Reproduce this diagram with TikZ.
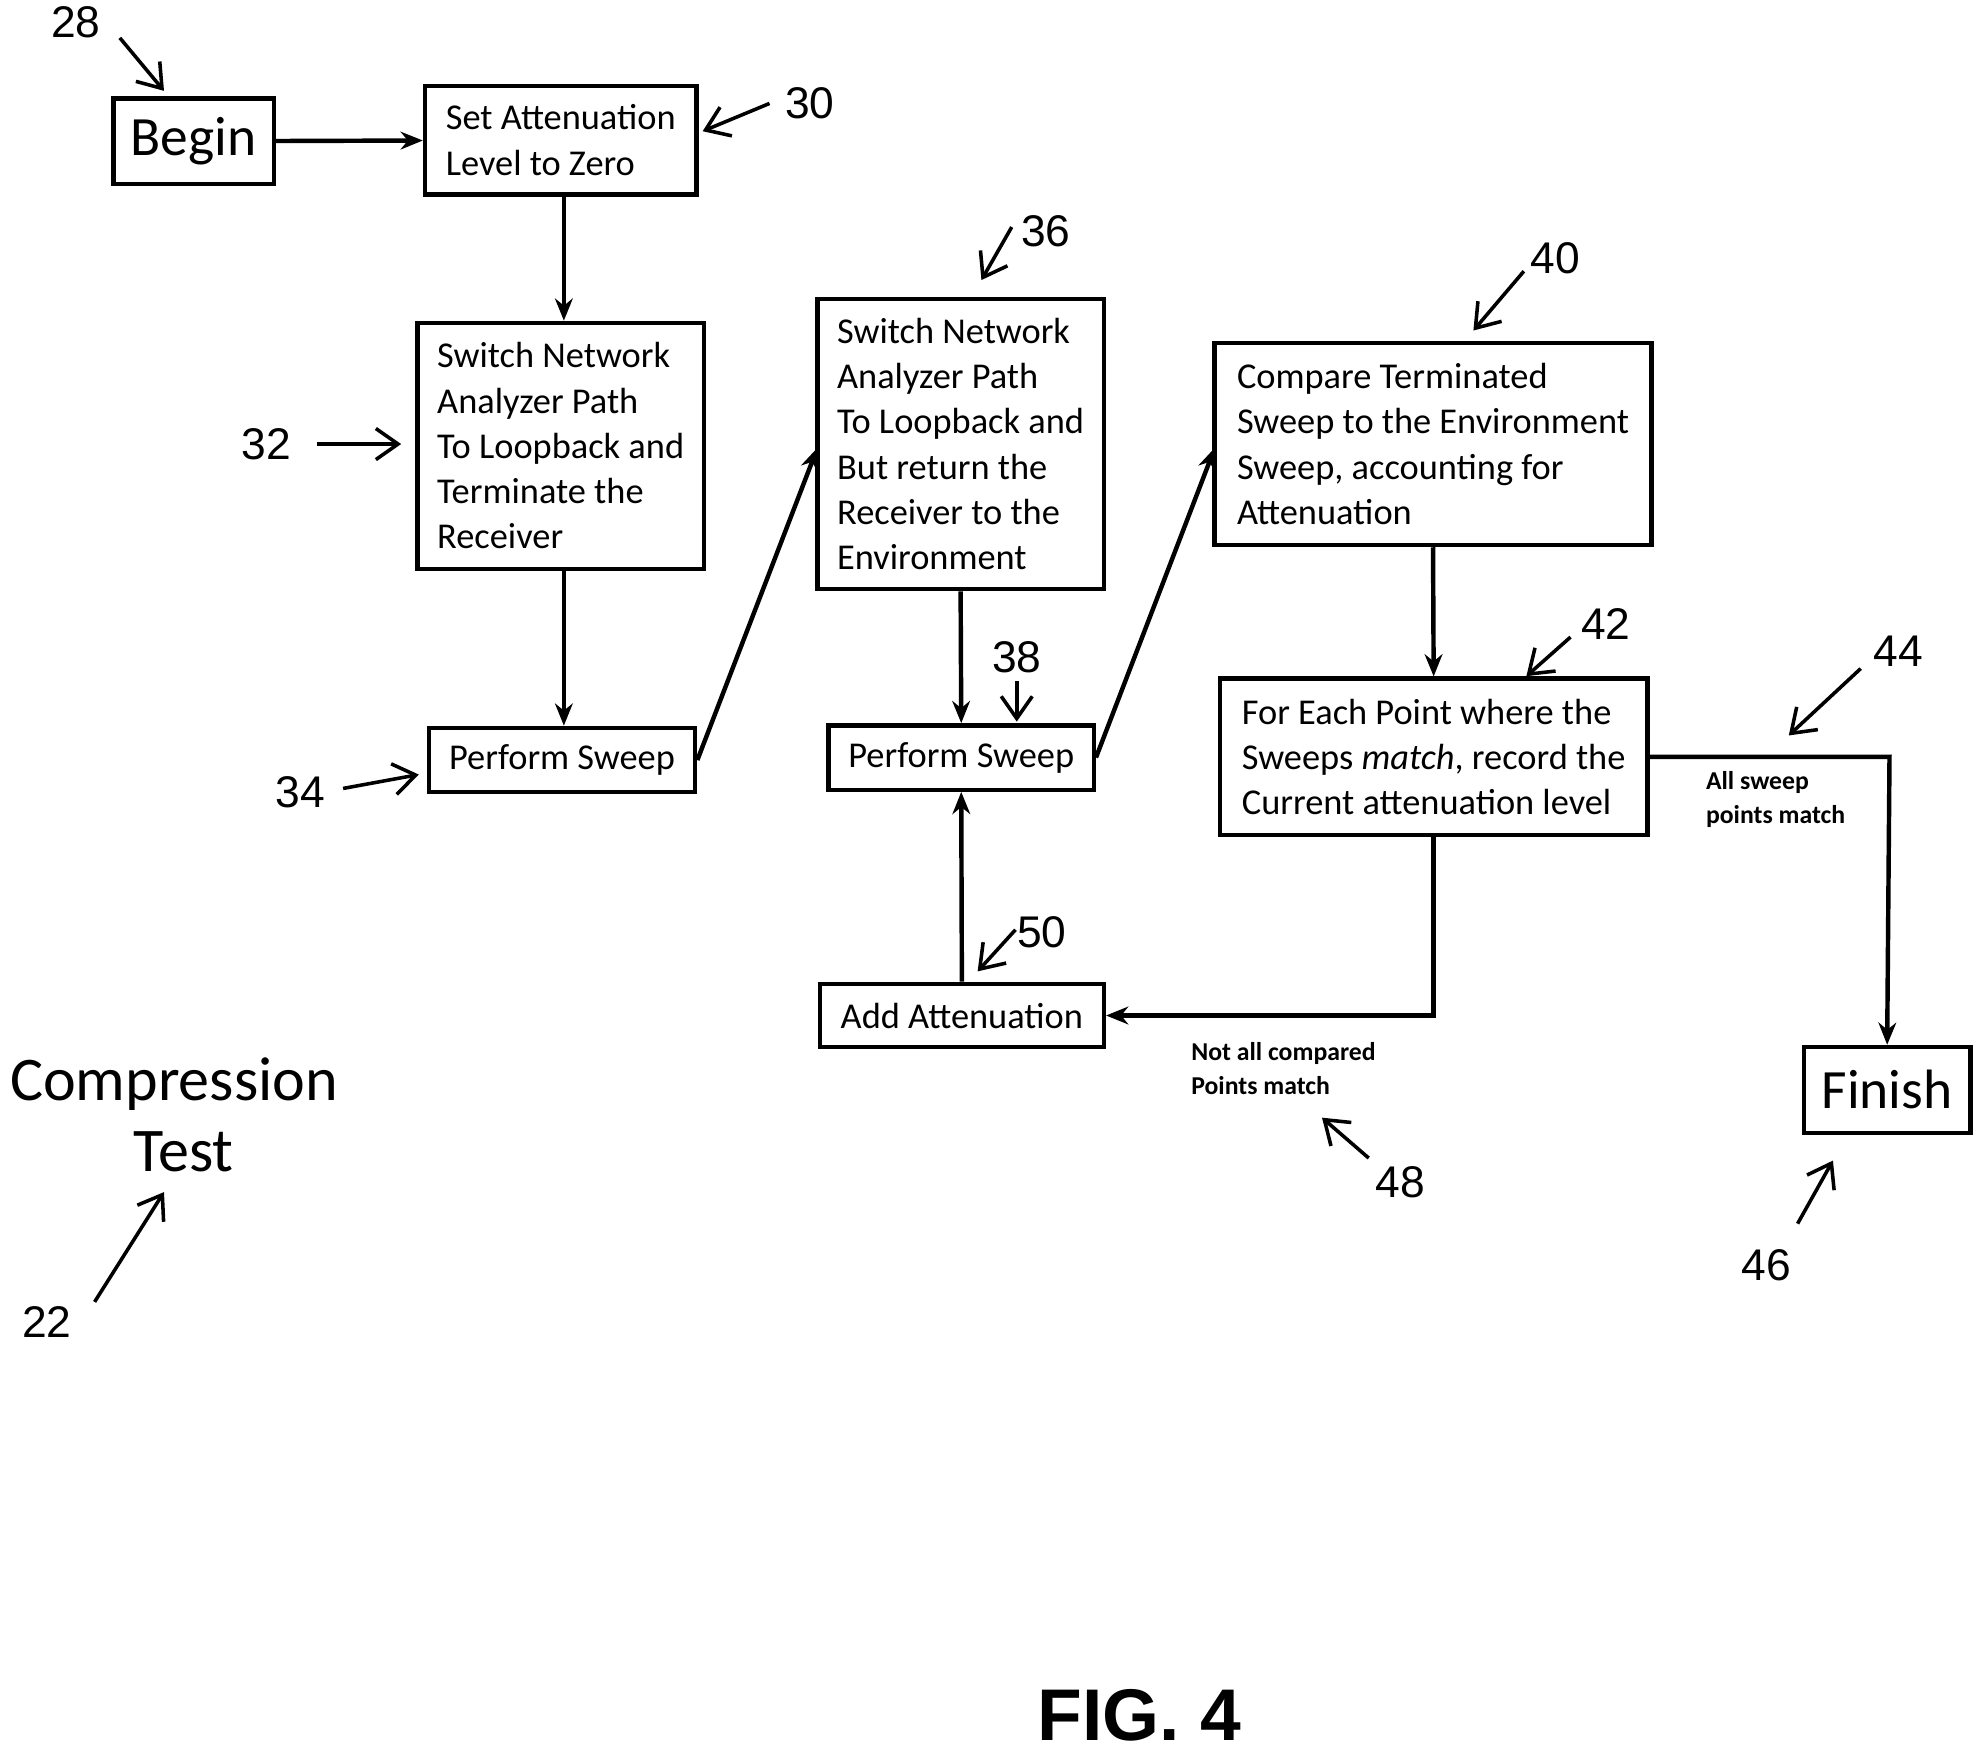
\documentclass[tikz,border=0pt]{standalone}
\usepackage{fontspec}
\setmainfont{Carlito}
\newfontfamily\numfont{Liberation Sans}
\usetikzlibrary{arrows.meta}
\begin{document}
\begin{tikzpicture}[x=0.01cm,y=-0.01cm,
  box/.style={draw,line width=1pt,inner sep=0pt,align=left,font=\fontsize{8.2}{10.2}\selectfont},
  flow/.style={line width=1pt,-{Stealth[length=5pt,width=4pt]}},
  ref/.style={line width=0.8pt,-{Straight Barb[length=5pt,width=7pt]}},
  num/.style={font=\numfont\fontsize{10}{12}\selectfont},
  small/.style={font=\bfseries\fontsize{5.8}{7.6}\selectfont,align=left,anchor=west}]
\useasboundingbox (0,0) rectangle (1568,1393);
\node[box,minimum width=1.27cm,minimum height=0.68cm,align=center,font=\fontsize{12.5}{15}\selectfont] (begin) at (153.5,112) {Begin};
\node[box,minimum width=2.15cm,minimum height=0.86cm] (set) at (444.5,111) {Set Attenuation\\Level to Zero};
\node[box,minimum width=2.27cm,minimum height=1.95cm] (sw1) at (444.5,353.5) {Switch Network\\Analyzer Path\\To Loopback and\\Terminate the\\Receiver};
\node[box,minimum width=2.11cm,minimum height=0.51cm,align=center] (sweep1) at (445.5,602.5) {Perform Sweep};
\node[box,minimum width=2.27cm,minimum height=2.30cm] (sw2) at (761.5,352) {Switch Network\\Analyzer Path\\To Loopback and\\But return the\\Receiver to the\\Environment};
\node[box,minimum width=2.10cm,minimum height=0.51cm,align=center] (sweep2) at (762,600.5) {Perform Sweep};
\node[box,minimum width=3.46cm,minimum height=1.60cm] (cmp) at (1136,352) {Compare Terminated\\Sweep to the Environment\\Sweep, accounting for\\Attenuation};
\node[box,minimum width=3.39cm,minimum height=1.24cm] (each) at (1136.5,600) {For Each Point where the\\Sweeps \textit{match}, record the\\Current attenuation level};
\node[box,minimum width=2.25cm,minimum height=0.50cm,align=center] (add) at (762.5,805) {Add Attenuation};
\node[box,minimum width=1.32cm,minimum height=0.68cm,align=center,font=\fontsize{12.5}{15}\selectfont] (fin) at (1496,864) {Finish};

\draw[flow] (begin) -- (set);
\draw[flow] (set.south -| 447,0) -- (sw1.north -| 447,0);
\draw[flow] (sw1.south -| 447,0) -- (sweep1.north -| 447,0);
\coordinate (s2in) at (648,355);
\coordinate (cin) at (963,355);
\draw[flow] (sweep1.east) -- (s2in);
\draw[flow] (sweep2.east) -- (cin);
\draw[flow] (sw2.south) -- (sweep2.north);
\draw[flow] (cmp.south) -- (each.north);
\draw[flow] (each.east) -- ++(190,0) -- (fin.north);
\draw[flow] (each.south) |- (add.east);
\draw[flow] (add.north) -- (sweep2.south);

\node[small] (l44) at (1340,634) {All sweep\\points match};
\node[small] (l48) at (932,847) {Not all compared\\Points match};

\node[num] (n28) at (60,18) {28}; \coordinate (a28) at (130,72); \draw[ref] (95,30) -- (a28);
\node[num] (n30) at (642,82) {30}; \coordinate (a30) at (557,104); \draw[ref] (n30.west) -- (a30);
\node[num] (n32) at (211,352) {32}; \coordinate (a32) at (318,352); \draw[ref] (n32.east) ++(8,0) -- (a32);
\node[num] (n34) at (238,628) {34}; \coordinate (a34) at (332,614); \draw[ref] (272,625) -- (a34);
\node[num] (n36) at (829,183) {36}; \coordinate (a36) at (778,222); \draw[ref] (802,180) -- (a36);
\node[num] (n38) at (806,521) {38}; \coordinate (a38) at (806,572); \draw[ref] (806,540) -- (a38);
\node[num] (n40) at (1233,205) {40}; \coordinate (a40) at (1168,262); \draw[ref] (1208,215) -- (a40);
\node[num] (n42) at (1273,495) {42}; \coordinate (a42) at (1210,536); \draw[ref] (1245,505) -- (a42);
\node[num] (n44) at (1505,516) {44}; \coordinate (a44) at (1418,583); \draw[ref] (1475,530) -- (a44);
\node[num] (n46) at (1400,1003) {46}; \coordinate (a46) at (1453,920); \draw[ref] (1425,970) -- (a46);
\node[num] (n48) at (1110,937) {48}; \coordinate (a48) at (1048,886); \draw[ref] (1085,918) -- (a48);
\node[num] (n50) at (826,739) {50}; \coordinate (a50) at (775,770); \draw[ref] (805,737) -- (a50);
\node[num] (n22) at (37,1048) {22}; \coordinate (a22) at (130,945); \draw[ref] (75,1032) -- (a22);

\node[font=\fontsize{14}{17}\selectfont,align=center] (title) at (138,884) {Compression\\[-1pt]\hspace*{0.3em}Test};
\node[font=\numfont\bfseries\fontsize{16.5}{20}\selectfont] (fig) at (903,1360) {FIG. 4};
\end{tikzpicture}
\end{document}
